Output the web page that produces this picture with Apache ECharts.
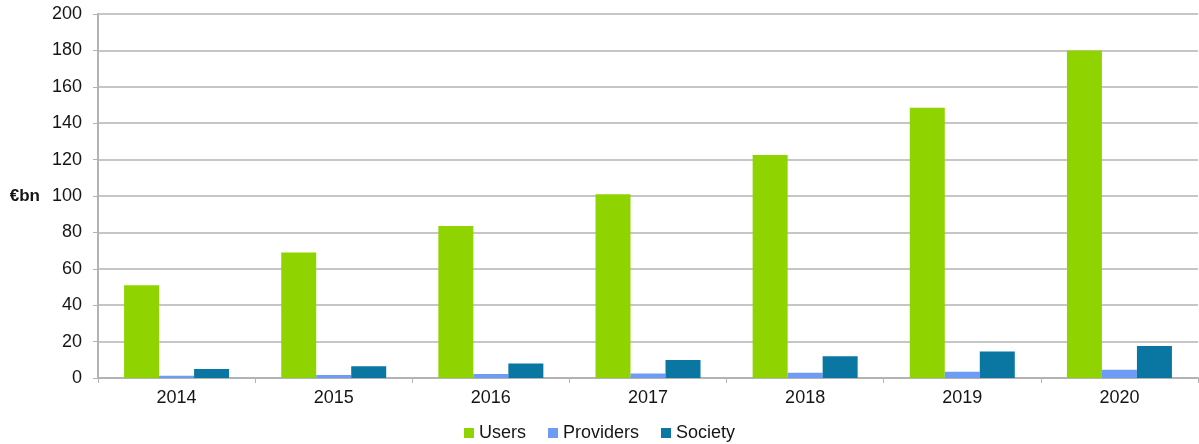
<!DOCTYPE html>
<html>
<head>
<meta charset="utf-8">
<script src="https://cdn.jsdelivr.net/npm/echarts@6/dist/echarts.min.js"></script>
<style>
  html, body { margin: 0; padding: 0; background: #fff; }
  #chart { width: 1199px; height: 444px; }
</style>
</head>
<body>
<div id="chart"></div>
<script>
// Annual benefits by group, in € billions
const years = ['2014', '2015', '2016', '2017', '2018', '2019', '2020'];
const users = [51, 69, 83.5, 101, 122.5, 148.5, 180];
const providers = [1.2, 1.6, 2.2, 2.5, 2.9, 3.5, 4.6];
const society = [5, 6.4, 8, 9.9, 11.9, 14.6, 17.6];
const yTicks = [0, 20, 40, 60, 80, 100, 120, 140, 160, 180, 200];

const FONT = '"Liberation Sans", Arial, sans-serif';
const GRID_GRAY = '#b3b3b3';
const TEXT = '#151515';

const chart = echarts.init(document.getElementById('chart'), null, { renderer: 'canvas' });

function barSeries(name, data, color) {
  return {
    name: name,
    type: 'bar',
    data: data,
    barWidth: 35,
    barGap: '0%',
    itemStyle: { color: color },
    emphasis: { disabled: true }
  };
}

chart.setOption({
  animation: false,
  textStyle: { fontFamily: FONT },
  grid: { left: 98, right: 1, top: 14, bottom: 66, containLabel: false },
  legend: {
    top: 419,
    left: 'center',
    itemWidth: 10,
    itemHeight: 10,
    itemGap: 22,
    icon: 'rect',
    textStyle: { fontSize: 18, color: TEXT, fontFamily: FONT, padding: [0, 0, 0, 0] },
    data: ['Users', 'Providers', 'Society']
  },
  xAxis: {
    type: 'category',
    data: years,
    axisLine: { lineStyle: { color: GRID_GRAY, width: 2 } },
    axisTick: { show: true, length: 5, lineStyle: { color: GRID_GRAY } },
    axisLabel: { fontSize: 18, color: TEXT, margin: 11, fontFamily: FONT }
  },
  yAxis: {
    type: 'value',
    min: yTicks[0],
    max: yTicks[yTicks.length - 1],
    interval: yTicks[1] - yTicks[0],
    name: '€bn',
    nameLocation: 'middle',
    nameGap: 58,
    nameRotate: 0,
    nameTextStyle: { fontSize: 17, fontWeight: 'bold', color: TEXT, fontFamily: FONT },
    axisLine: { show: true, lineStyle: { color: GRID_GRAY, width: 2 } },
    axisTick: { show: true, length: 5, lineStyle: { color: GRID_GRAY } },
    axisLabel: { fontSize: 18, color: TEXT, margin: 16, fontFamily: FONT },
    splitLine: { lineStyle: { color: GRID_GRAY, width: 1.5 } }
  },
  series: [
    barSeries('Users', users, '#8fd400'),
    barSeries('Providers', providers, '#6e9cf5'),
    barSeries('Society', society, '#0a76a2')
  ]
});
</script>
</body>
</html>
